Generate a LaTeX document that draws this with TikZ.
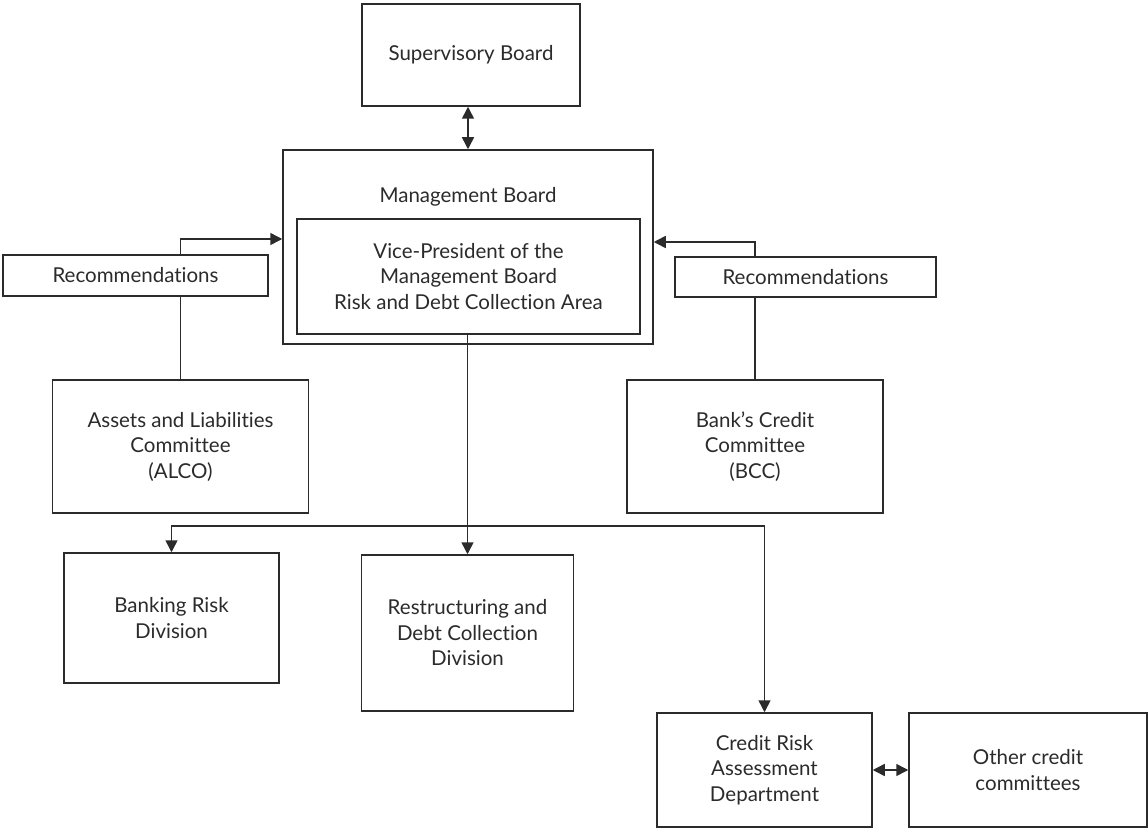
\documentclass[tikz,border=0pt]{standalone}
\usepackage{fontspec}
\setmainfont[Ligatures=NoCommon]{Lato}
\usetikzlibrary{arrows.meta}
\definecolor{ink}{HTML}{2B2B2B}
\begin{document}
\begin{tikzpicture}[x=1pt,y=-1pt,
  box/.style={draw=ink,line width=1.5pt,fill=white,inner sep=0pt,align=center,
    font=\fontsize{20.5}{25.5}\selectfont,text=ink},
  lbl/.style={inner sep=0pt,align=center,font=\fontsize{20.5}{25.5}\selectfont,text=ink},
  conn/.style={draw=ink,line width=1.5pt},
  arr/.style={conn,-{Triangle[length=12pt,width=12pt]}},
  darr/.style={conn,{Triangle[length=12pt,width=12pt]}-{Triangle[length=12pt,width=12pt]}}]
\useasboundingbox (0,0) rectangle (1148,829);
\node[box,minimum width=218pt,minimum height=102pt] (sup) at (471,55) {Supervisory Board};
\node[box,minimum width=370pt,minimum height=194pt] (mgmt) at (468,247) {};
\node[lbl] (mgmtlbl) at (468,197) {Management Board};
\node[box,minimum width=343pt,minimum height=115pt] (vp) at (468.5,276.5) {Vice-President of the\\Management Board\\Risk and Debt Collection Area};
\node[box,minimum width=256pt,minimum height=133pt] (alco) at (180.5,446.5) {Assets and Liabilities\\Committee\\(ALCO)};
\node[box,minimum width=256pt,minimum height=133pt] (bcc) at (755,446.5) {Bank’s Credit\\Committee\\(BCC)};
\node[box,minimum width=265pt,minimum height=41pt] (recL) at (135.5,275.5) {Recommendations};
\node[box,minimum width=261pt,minimum height=40pt] (recR) at (805.5,277) {Recommendations};
\node[box,minimum width=215pt,minimum height=130pt] (bank) at (171.5,618) {Banking Risk\\Division};
\node[box,minimum width=212pt,minimum height=156pt] (restr) at (467.5,633) {Restructuring and\\Debt Collection\\Division};
\node[box,minimum width=215pt,minimum height=114pt] (cra) at (764.5,770) {Credit Risk\\Assessment\\Department};
\node[box,minimum width=238pt,minimum height=114pt] (other) at (1028,770) {Other credit\\committees};
% connectors
\draw[darr] (sup.south -| mgmt.north) -- (mgmt.north);
\draw[conn] (alco.north) -- (recL.south -| alco.north);
\coordinate (lt) at (180.5,239);
\draw[arr] (recL.north -| alco.north) -- (lt) -- (lt -| mgmt.west);
\draw[conn] (bcc.north) -- (recR.south -| bcc.north);
\coordinate (rt) at (755,242);
\draw[arr] (recR.north -| bcc.north) -- (rt) -- (rt -| mgmt.east);
\draw[arr] (vp.south -| restr.north) -- (restr.north);
\coordinate (bus) at (467.5,526);
\draw[arr] (bus) -| (bank.north);
\draw[arr] (bus) -| (cra.north);
\draw[darr] (cra.east) -- (other.west);
\end{tikzpicture}
\end{document}
